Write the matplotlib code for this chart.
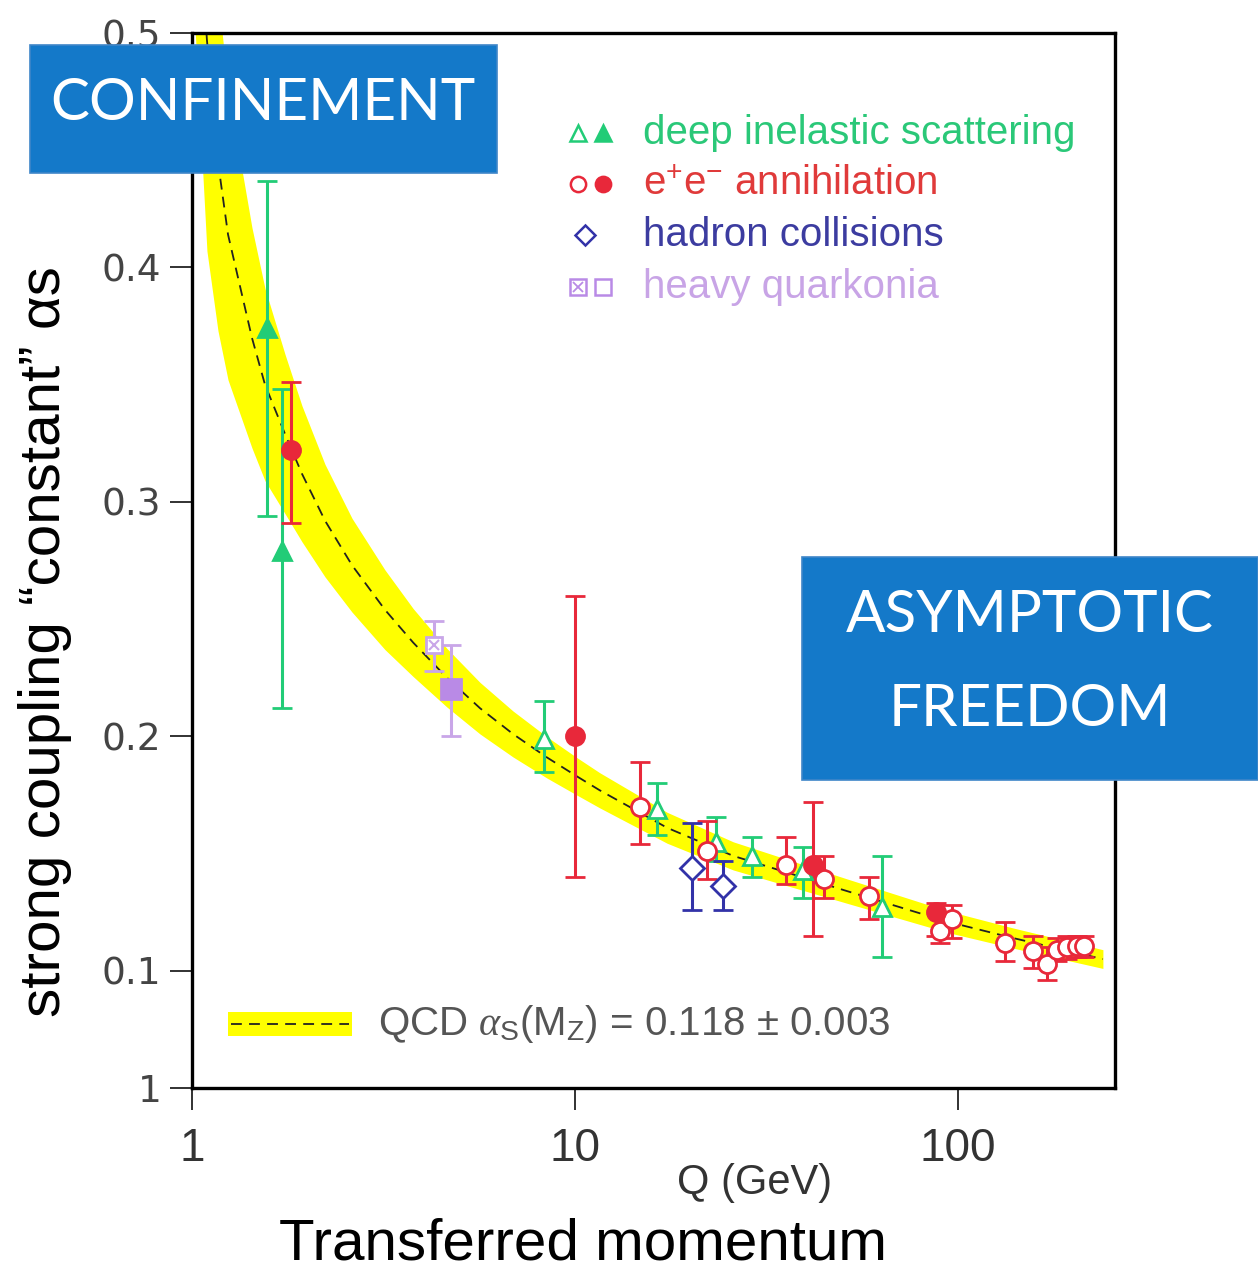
#
########################################################################
# Bibliotecas
########################################################################
#
import matplotlib
matplotlib.use("Agg")
import matplotlib.pyplot as plt
from matplotlib.patches import Rectangle

#
########################################################################
# Dados
########################################################################
#
# curva QCD (linha tracejada) e meia largura da faixa amarela
curva_q = [1.02, 1.094, 1.169, 1.242, 1.434, 1.551, 1.749, 1.937, 2.225, 2.617, 3.19,
           3.78, 4.63, 5.65, 6.89, 8.45, 10.1, 11.6, 17.4, 25.9, 51.3, 93.6, 139, 239]
curva_a = [0.57, 0.497, 0.445, 0.414, 0.370, 0.350, 0.329, 0.312, 0.292, 0.273, 0.254,
           0.240, 0.225, 0.212, 0.201, 0.191, 0.183, 0.177, 0.161, 0.149, 0.134, 0.121, 0.114, 0.105]
faixa_hw = [0.07, 0.09, 0.072, 0.062, 0.047, 0.041, 0.034, 0.029, 0.024, 0.020, 0.017,
            0.0145, 0.0125, 0.011, 0.0098, 0.0088, 0.008, 0.0075, 0.0066, 0.006, 0.0052, 0.0046, 0.0043, 0.004]

# deep inelastic scattering
dis_aberto_q = [8.3, 16.4, 23.3, 29.0, 39.4, 63.3]
dis_aberto_a = [0.199, 0.169, 0.155, 0.149, 0.143, 0.127]
dis_aberto_sup = [0.215, 0.180, 0.1655, 0.157, 0.153, 0.149]
dis_aberto_inf = [0.185, 0.158, 0.147, 0.140, 0.131, 0.106]

dis_cheio_q = [1.57, 1.72]
dis_cheio_a = [0.374, 0.279]
dis_cheio_sup = [0.437, 0.348]
dis_cheio_inf = [0.294, 0.212]

# e+e- annihilation
ee_cheio_q = [1.81, 10.0, 41.8, 87.6]
ee_cheio_a = [0.322, 0.200, 0.145, 0.125]
ee_cheio_sup = [0.351, 0.260, 0.172, 0.129]
ee_cheio_inf = [0.291, 0.140, 0.115, 0.115]

ee_aberto_q = [14.8, 22.1, 35.6, 44.7, 58.6, 89.8, 96.5, 133, 157, 171, 181, 193, 205, 213]
ee_aberto_a = [0.170, 0.151, 0.145, 0.139, 0.132, 0.117, 0.122, 0.112, 0.1085, 0.103,
               0.109, 0.110, 0.1105, 0.1105]
ee_aberto_sup = [0.189, 0.164, 0.157, 0.149, 0.140, 0.124, 0.128, 0.121, 0.115, 0.110,
                 0.114, 0.115, 0.115, 0.115]
ee_aberto_inf = [0.154, 0.139, 0.137, 0.131, 0.122, 0.112, 0.114, 0.104, 0.101, 0.096,
                 0.104, 0.105, 0.106, 0.106]

# hadron collisions
had_q = [20.2, 24.3]
had_a = [0.144, 0.136]
had_sup = [0.163, 0.147]
had_inf = [0.126, 0.126]

# heavy quarkonia
hq_x_q = [4.28]
hq_x_a = [0.239]
hq_x_sup = [0.249]
hq_x_inf = [0.228]

hq_cheio_q = [4.75]
hq_cheio_a = [0.220]
hq_cheio_sup = [0.239]
hq_cheio_inf = [0.200]

y_ticks = [0.05, 0.1, 0.2, 0.3, 0.4, 0.5]
y_rotulos = ["1", "0.1", "0.2", "0.3", "0.4", "0.5"]
x_ticks = [1, 10, 100]
x_rotulos = ["1", "10", "100"]

#
########################################################################
# Cores e fontes
########################################################################
#
VERDE = "#22cc77"
VERMELHO = "#e8283a"
AZUL = "#3232a8"
ROXO = "#b98ae6"
ROXO_CLARO = "#c9a6e8"
AMARELO = "#ffff00"
AZUL_CAIXA = "#1479c9"
ESTREITA = ["Liberation Sans Narrow", "Liberation Sans", "DejaVu Sans"]

plt.rcParams["mathtext.fontset"] = "custom"
plt.rcParams["mathtext.rm"] = "Liberation Sans"
plt.rcParams["mathtext.it"] = "Liberation Serif:italic"


def barras(ax, q, a, sup, inf, cor, marcador, cheio, ms=13, mcor=None):
    err = [[v - b for v, b in zip(a, inf)], [s - v for v, s in zip(a, sup)]]
    mcor = mcor or cor
    ax.errorbar(q, a, yerr=err, fmt=marcador, color=cor, ecolor=cor, elinewidth=2.2,
                capsize=7, capthick=2.2, ms=ms, mew=2.0, mec=mcor,
                mfc=mcor if cheio else "white", zorder=4)


#
########################################################################
# Figura
########################################################################
#
fig = plt.figure(figsize=(12.58, 12.81), dpi=100)
ax = fig.add_axes([0.15262, 0.15066, 0.73370, 0.82357])

inf_faixa = [a - h for a, h in zip(curva_a, faixa_hw)]
sup_faixa = [a + h for a, h in zip(curva_a, faixa_hw)]
ax.fill_between(curva_q, inf_faixa, sup_faixa, color=AMARELO, lw=0, zorder=1)
ax.plot(curva_q, curva_a, color="#222222", lw=1.3, ls=(0, (6, 4)), zorder=2)

barras(ax, dis_aberto_q, dis_aberto_a, dis_aberto_sup, dis_aberto_inf, VERDE, "^", False)
barras(ax, dis_cheio_q, dis_cheio_a, dis_cheio_sup, dis_cheio_inf, VERDE, "^", True)
barras(ax, ee_aberto_q, ee_aberto_a, ee_aberto_sup, ee_aberto_inf, VERMELHO, "o", False)
barras(ax, ee_cheio_q, ee_cheio_a, ee_cheio_sup, ee_cheio_inf, VERMELHO, "o", True)
barras(ax, had_q, had_a, had_sup, had_inf, AZUL, "D", False, ms=12)
barras(ax, hq_x_q, hq_x_a, hq_x_sup, hq_x_inf, ROXO_CLARO, "s", False, ms=12)
ax.plot(hq_x_q, hq_x_a, "x", color=ROXO_CLARO, ms=7, mew=1.5, zorder=5)
barras(ax, hq_cheio_q, hq_cheio_a, hq_cheio_sup, hq_cheio_inf, ROXO_CLARO, "s", True,
       ms=14, mcor=ROXO)

ax.set_xscale("log")
ax.set_xlim(1, 257)
ax.set_ylim(0.05, 0.5)
ax.set_xticks(x_ticks)
ax.set_xticklabels(x_rotulos, family=ESTREITA, fontsize=33, color="#333333")
ax.xaxis.set_minor_locator(matplotlib.ticker.NullLocator())
ax.set_yticks(y_ticks)
ax.set_yticklabels(y_rotulos, family="DejaVu Sans", fontsize=27, color="#444444")
ax.tick_params(axis="both", direction="out", length=16, width=1.3, color="#222222")
ax.tick_params(axis="x", pad=12)
ax.tick_params(axis="y", pad=6)
for s in ax.spines.values():
    s.set_linewidth(2.4)

# legenda
leg_y = [0.905, 0.857, 0.809, 0.759]
leg_txt = ["deep inelastic scattering", "e$^{+}$e$^{-}$ annihilation",
           "hadron collisions", "heavy quarkonia"]
leg_cor = ["#2ac878", "#e03a3a", "#3c3ca0", "#c8a4e6"]
for y, t, c in zip(leg_y, leg_txt, leg_cor):
    ax.text(0.489, y, t, transform=ax.transAxes, family=ESTREITA, fontsize=29,
            color=c, va="center", ha="left")
kw = dict(transform=ax.transAxes, clip_on=False, ms=11, mew=1.8, ls="none")
ax.plot([0.418], [0.905], "^", color=VERDE, mfc="white", **kw)
ax.plot([0.445], [0.905], "^", color=VERDE, **kw)
ax.plot([0.418], [0.857], "o", color=VERMELHO, mfc="white", **kw)
ax.plot([0.445], [0.857], "o", color=VERMELHO, **kw)
ax.plot([0.426], [0.809], "D", color=AZUL, mfc="white", **dict(kw, ms=10))
ax.plot([0.418], [0.759], "s", color=ROXO, mfc="white", **kw)
ax.plot([0.418], [0.759], "x", color=ROXO, **dict(kw, ms=7, mew=1.3))
ax.plot([0.445], [0.759], "s", color=ROXO, mfc="white", **kw)

ax.add_patch(Rectangle((0.039, 0.049), 0.134, 0.023, transform=ax.transAxes,
                       color=AMARELO, lw=0, zorder=3))
ax.plot([0.042, 0.170], [0.0607, 0.0607], transform=ax.transAxes, color="#222222",
        lw=1.3, ls=(0, (6, 4)), zorder=4)
ax.text(0.2015, 0.0607, r"QCD $\alpha_{\mathrm{S}}$(M$_{\mathrm{Z}}$) = 0.118 ± 0.003",
        transform=ax.transAxes, family=ESTREITA, fontsize=29, color="#555555",
        va="center", ha="left")

# rotulos dos eixos
fig.text(755 / 1258, 1 - 1183 / 1281, "Q (GeV)", family=ESTREITA, fontsize=30,
         color="#333333", ha="center", va="center")
fig.text(583 / 1258, 1 - 1245 / 1281, "Transferred momentum", family=ESTREITA,
         fontsize=42, color="black", ha="center", va="center")
fig.text(45 / 1258, 1 - 642 / 1281, "strong coupling “constant” αs", family=ESTREITA,
         fontsize=42, color="black", ha="center", va="center", rotation=90)

# caixas azuis
for (x0, y0, x1, y1) in [(30, 45, 497, 173), (802, 557, 1258, 780)]:
    fig.add_artist(Rectangle((x0 / 1258, 1 - y1 / 1281), (x1 - x0) / 1258, (y1 - y0) / 1281,
                             transform=fig.transFigure, facecolor=AZUL_CAIXA,
                             edgecolor="#3f86c8", lw=1.2, zorder=10))
fig.text(263 / 1258, 1 - 104 / 1281, "CONFINEMENT", family=["Lato", "DejaVu Sans"],
         fontsize=42, color="white", ha="center", va="center", zorder=11)
fig.text(1030 / 1258, 1 - 615 / 1281, "ASYMPTOTIC", family=["Lato", "DejaVu Sans"],
         fontsize=42, color="white", ha="center", va="center", zorder=11)
fig.text(1030 / 1258, 1 - 710 / 1281, "FREEDOM", family=["Lato", "DejaVu Sans"],
         fontsize=42, color="white", ha="center", va="center", zorder=11)

fig.savefig("out.png", dpi=100, facecolor="white")

########################################################################
# FIM DO PROGRAMA
########################################################################
